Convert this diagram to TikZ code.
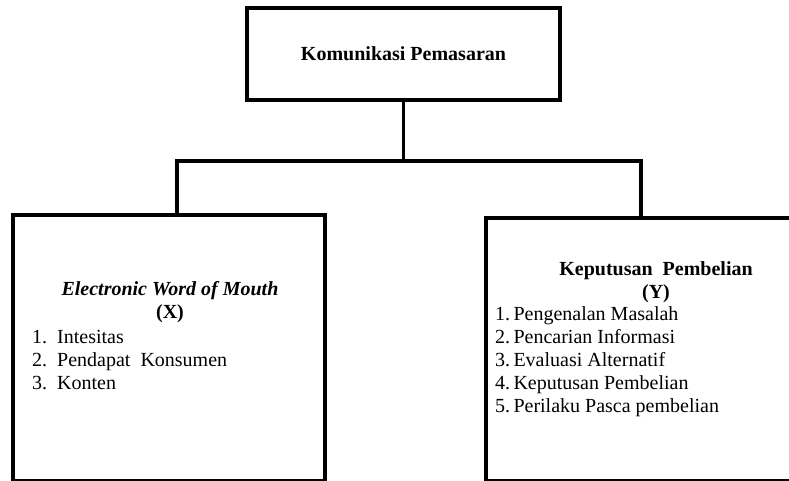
\documentclass[tikz,border=0pt]{standalone}
\usepackage{fontspec}
\setmainfont{Liberation Serif}
\usetikzlibrary{positioning}

\tikzset{
  kotak/.style={draw, line width=3.5pt, inner sep=0pt},
  garis/.style={line width=3.5pt, line join=miter},
  judul/.style={inner sep=0pt, align=center, font=\fontsize{20}{23}\selectfont\bfseries},
  daftar/.style={inner sep=0pt, align=left, anchor=west, font=\fontsize{20}{23}\selectfont},
}

\begin{document}
\begin{tikzpicture}[x=1pt,y=-1pt]
  \useasboundingbox (0,0) rectangle (789,480);
  \clip (0,0) rectangle (789,480);

  % kotak utama
  \node[kotak, minimum width=313pt, minimum height=92pt] (kom) at (403.5,54) {};
  \node[judul] (komJudul) at (kom) {Komunikasi Pemasaran};

  % variabel X dan Y
  \node[kotak, minimum width=312pt, minimum height=266pt] (ewom) at (169,348) {};
  \node[kotak, minimum width=354pt, minimum height=263pt] (kep) at (663,349.5) {};

  \node[judul] (ewomJudul) at (170,302) {\textit{Electronic Word of Mouth}\\(X)};
  \node[daftar] (ewomList) at (32,360)
    {\makebox[25pt][l]{1.}Intesitas\\
     \makebox[25pt][l]{2.}Pendapat\ \ Konsumen\\
     \makebox[25pt][l]{3.}Konten};

  \node[judul] (kepJudul) at (656,282) {Keputusan\ \ Pembelian\\(Y)};
  \node[daftar] (kepList) at (495,362)
    {1.\,Pengenalan Masalah\\
     2.\,Pencarian Informasi\\
     3.\,Evaluasi Alternatif\\
     4.\,Keputusan Pembelian\\
     5.\,Perilaku Pasca pembelian};

  % garis penghubung
  \coordinate (cab) at (403.5,161);
  \coordinate (cabKiri) at (177,161);
  \coordinate (cabKanan) at (641,161);
  \draw[garis] (kom.south) -- (cab);
  \draw[garis] (ewom.north -| cabKiri) -- (cabKiri) -- (cabKanan) -- (kep.north -| cabKanan);
\end{tikzpicture}
\end{document}
